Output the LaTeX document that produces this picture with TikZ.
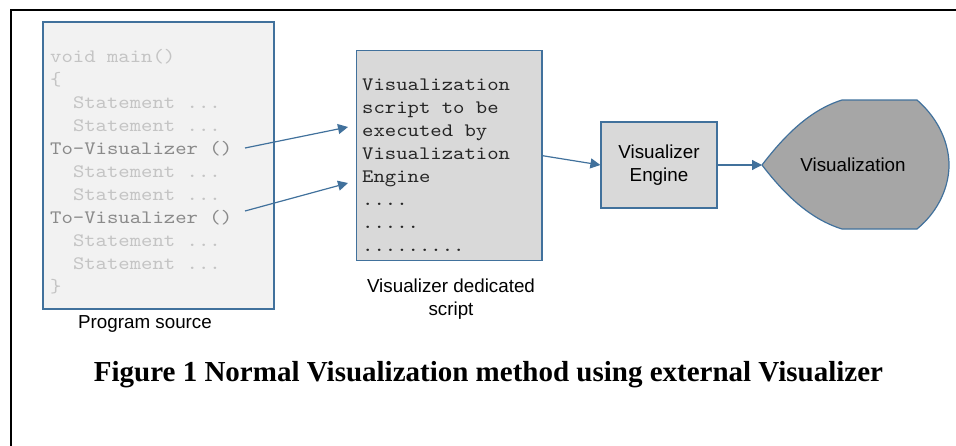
\documentclass[tikz,border=0pt]{standalone}
\usepackage{fontspec}
\setmainfont{Liberation Sans}
\newfontfamily\codefont[FakeStretch=1.14]{lmmono10-regular.otf}
\newfontfamily\capfont{Liberation Serif}
\usetikzlibrary{arrows.meta}
\definecolor{edgeblue}{HTML}{41719C}
\definecolor{progfill}{HTML}{F2F2F2}
\definecolor{scriptfill}{HTML}{D9D9D9}
\definecolor{vizfill}{HTML}{A6A6A6}
\definecolor{codelight}{HTML}{C4C4C4}
\definecolor{codedark}{HTML}{8A8A8A}
\definecolor{scripttext}{HTML}{262626}
\begin{document}
\begin{tikzpicture}[x=1pt,y=-1pt,
  codeline/.style={anchor=base west, inner sep=0pt, font=\codefont\fontsize{19}{23}\selectfont},
  lightcode/.style={codeline, text=codelight},
  darkcode/.style={codeline, text=codedark},
  scriptcode/.style={codeline, text=scripttext},
  lbl/.style={anchor=base, inner sep=0pt, font=\fontsize{18.8}{23}\selectfont},
  boxshape/.style={draw=edgeblue, line width=1.2pt, rectangle, inner sep=0pt},
  conn/.style={draw=edgeblue, line width=1.2pt, -{Triangle[length=10pt,width=10pt]}}
]
\useasboundingbox (0,0) rectangle (956,445);
% outer frame
\draw[line width=2pt] (11,446) -- (11,10) -- (957,10);

% program source box
\node[boxshape, fill=progfill, minimum width=231pt, minimum height=287pt] (prog) at (158.5,165.5) {};
\node[lightcode] (p1) at (50,62) {void main()};
\node[lightcode] (p2) at (50,85) {\{};
\node[lightcode] (p3) at (72.8,108) {Statement ...};
\node[lightcode] (p4) at (72.8,131) {Statement ...};
\node[darkcode] (tv1) at (50,154) {To-Visualizer ()};
\node[lightcode] (p6) at (72.8,177) {Statement ...};
\node[lightcode] (p7) at (72.8,200) {Statement ...};
\node[darkcode] (tv2) at (50,223) {To-Visualizer ()};
\node[lightcode] (p9) at (72.8,246) {Statement ...};
\node[lightcode] (p10) at (72.8,269) {Statement ...};
\node[lightcode] (p11) at (50,292) {\}};
\node[lbl] (proglbl) at (145,328) {Program source};

% script box
\node[boxshape, fill=scriptfill, minimum width=185.3pt, minimum height=210pt] (script) at (449.3,155.7) {};
\node[scriptcode] (s1) at (362,90) {Visualization};
\node[scriptcode] (s2) at (362,113) {script to be};
\node[scriptcode] (s3) at (362,136) {executed by};
\node[scriptcode] (s4) at (362,159) {Visualization};
\node[scriptcode] (s5) at (362,182) {Engine};
\node[scriptcode] (s6) at (362,205) {....};
\node[scriptcode] (s7) at (362,228) {.....};
\node[scriptcode] (s8) at (362,251) {.........};
\node[lbl] (scriptlbl1) at (451,292) {Visualizer dedicated};
\node[lbl] (scriptlbl2) at (451,315) {script};

% engine box
\node[boxshape, fill=scriptfill, minimum width=116pt, minimum height=86pt, align=center,
      font=\fontsize{18.8}{23}\selectfont] (engine) at (659,165) {Visualizer\\Engine};

% display shape
\draw[draw=edgeblue, line width=1.2pt, fill=vizfill]
  (762,165) .. controls (785,135) and (810,110) .. (842,100)
  -- (917,100) .. controls (940,120) and (949,145) .. (949,165)
  .. controls (949,185) and (940,210) .. (917,229)
  -- (842,229) .. controls (810,219) and (785,195) .. (762,165) -- cycle;
\coordinate (disptip) at (762,165);
\node[lbl] (viz) at (853,171) {Visualization};

% connectors
\coordinate (a1s) at (245,148);
\coordinate (a1e) at (348,127);
\coordinate (a2s) at (245,211);
\coordinate (a2e) at (348,183);
\draw[conn] (a1s) -- (a1e);
\draw[conn] (a2s) -- (a2e);
\draw[conn] (script.east) -- (engine.west);
\draw[conn] (engine.east) -- (disptip);

% caption
\node[anchor=base, inner sep=0pt, font=\capfont\bfseries\fontsize{29}{34}\selectfont] (cap) at (488.5,381.7)
  {Figure 1 Normal Visualization method using external Visualizer};
\end{tikzpicture}
\end{document}
